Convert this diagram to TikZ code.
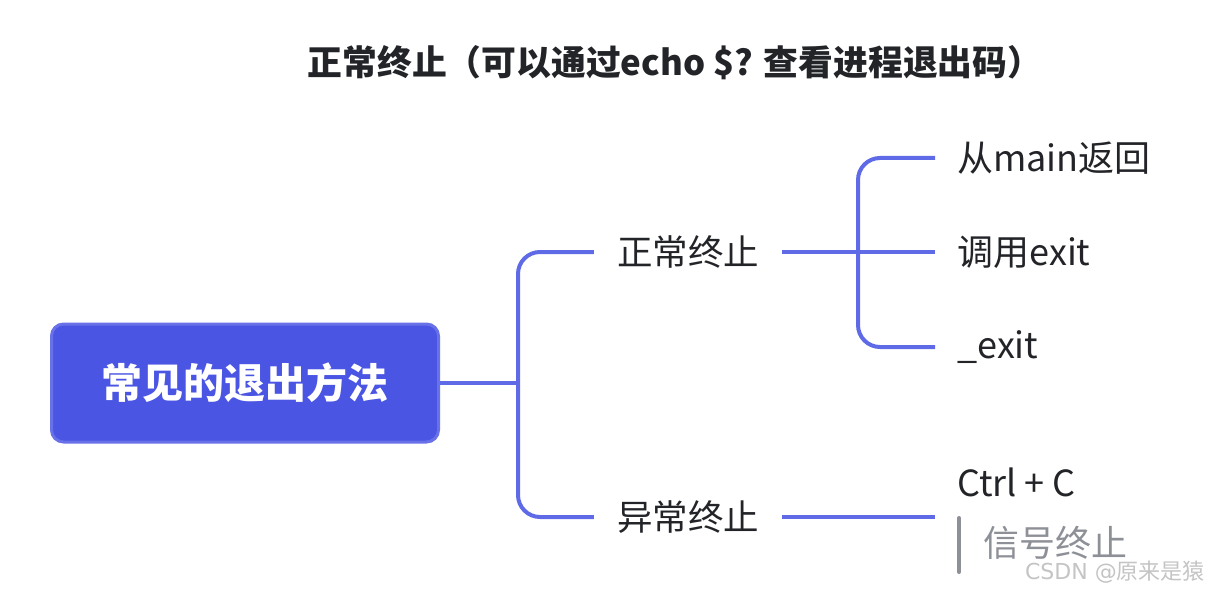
\documentclass[tikz,border=0pt]{standalone}
\usepackage{fontspec}
\newfontfamily\cjk{Noto Sans CJK SC}
\usetikzlibrary{positioning}

\definecolor{rootblue}{HTML}{4A55E3}
\definecolor{rootedge}{HTML}{6871E8}
\definecolor{linkblue}{HTML}{5F6BE6}
\definecolor{textdark}{HTML}{222428}
\definecolor{notegray}{HTML}{8E9097}
\definecolor{markgray}{HTML}{C4C4C4}

\tikzset{
  title/.style={text=textdark, inner sep=0pt, font=\cjk\bfseries\fontsize{34.8}{40}\selectfont},
  rootbox/.style={draw=rootedge, fill=rootblue, line width=3pt, rounded corners=12pt,
    minimum width=387pt, minimum height=118pt, text=white,
    font=\cjk\bfseries\fontsize{41}{46}\selectfont},
  topic/.style={inner xsep=23pt, inner ysep=0pt, text=textdark,
    font=\cjk\fontsize{35.5}{40}\selectfont},
  leaf/.style={anchor=west, inner xsep=22pt, inner ysep=0pt, text=textdark,
    font=\cjk\fontsize{36}{40}\selectfont},
  note/.style={anchor=west, inner sep=0pt, text=notegray,
    font=\cjk\fontsize{36}{40}\selectfont},
  link/.style={draw=linkblue, line width=4pt, rounded corners=22pt},
  notebar/.style={draw=notegray, line width=4pt, line cap=round},
}

\begin{document}
\begin{tikzpicture}[x=1pt,y=-1pt]
  \useasboundingbox (0,0) rectangle (1210,591);

  \node[title]   (title)    at (675,63)  {正常终止（可以通过echo \$? 查看进程退出码）};
  \node[rootbox] (root)     at (245,383) {常见的退出方法};
  \coordinate    (fork)     at (518,383);
  \node[topic]   (normal)   at (688,252) {正常终止};
  \node[topic]   (abnormal) at (688,517) {异常终止};
  \coordinate    (split)    at (858,251);

  \node[leaf]    (exit)     [right=153pt of normal]   {调用exit};
  \node[leaf]    (main)     at (935,158)              {从main返回};
  \node[leaf]    (uexit)    at (935,347)              {\_exit};
  \node[leaf]    (ctrl)     at (935,482)              {Ctrl + C};
  \node[note]    (signal)   at (983,543)              {信号终止};
  \node[anchor=east, inner sep=0pt, text=markgray, font=\fontspec{DejaVu Sans}\fontsize{22}{26}\selectfont]
                 (mark)     at (1205,572)             {CSDN @{\cjk 原来是猿}};

  % level one
  \draw[link] (root.east) -- (fork);
  \draw[link] (fork) |- (normal.west);
  \draw[link] (fork) |- (abnormal.west);

  % level two
  \draw[link] (normal.east) -- (exit.west);
  \draw[link] (split) |- (main.west);
  \draw[link] (split) |- (uexit.west);
  \draw[link] (abnormal.east) -- (abnormal.east -| ctrl.west);

  % note on Ctrl + C
  \draw[notebar] ([xshift=-24pt,yshift=-29pt]signal.west) -- ([xshift=-24pt,yshift=25pt]signal.west);
\end{tikzpicture}
\end{document}
